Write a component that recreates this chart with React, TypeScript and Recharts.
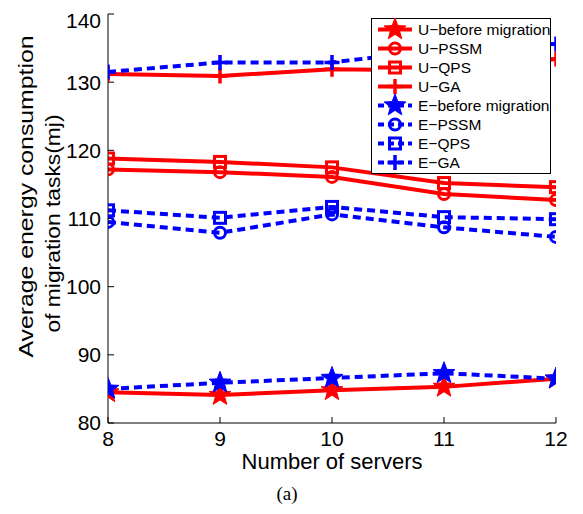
import React from 'react';
import { LineChart, Line, XAxis, YAxis, Legend } from 'recharts';

const servers = [8, 9, 10, 11, 12];
const uBefore = [84.5, 84.1, 84.8, 85.3, 86.5];
const uPSSM = [117.2, 116.8, 116.1, 113.6, 112.7];
const uQPS = [118.8, 118.3, 117.5, 115.2, 114.6];
const uGA = [131.2, 130.9, 131.9, 131.7, 133.4];
const eBefore = [85.0, 85.9, 86.6, 87.3, 86.5];
const ePSSM = [109.5, 107.9, 110.6, 108.7, 107.3];
const eQPS = [111.2, 110.1, 111.7, 110.2, 109.9];
const eGA = [131.5, 132.9, 132.9, 134.8, 135.6];
const yTicks = [80, 90, 100, 110, 120, 130, 140];

const RED = '#ff0000';
const BLUE = '#0000ff';
const SANS = '"Liberation Sans", Arial, Helvetica, sans-serif';

const data = servers.map((x, i) => ({
  x,
  uBefore: uBefore[i],
  uPSSM: uPSSM[i],
  uQPS: uQPS[i],
  uGA: uGA[i],
  eBefore: eBefore[i],
  ePSSM: ePSSM[i],
  eQPS: eQPS[i],
  eGA: eGA[i],
}));

type Kind = 'star' | 'circle' | 'square' | 'plus';

const seriesDefs: { key: string; name: string; color: string; dashed: boolean; kind: Kind }[] = [
  { key: 'uBefore', name: 'U−before migration', color: RED, dashed: false, kind: 'star' },
  { key: 'uPSSM', name: 'U−PSSM', color: RED, dashed: false, kind: 'circle' },
  { key: 'uQPS', name: 'U−QPS', color: RED, dashed: false, kind: 'square' },
  { key: 'uGA', name: 'U−GA', color: RED, dashed: false, kind: 'plus' },
  { key: 'eBefore', name: 'E−before migration', color: BLUE, dashed: true, kind: 'star' },
  { key: 'ePSSM', name: 'E−PSSM', color: BLUE, dashed: true, kind: 'circle' },
  { key: 'eQPS', name: 'E−QPS', color: BLUE, dashed: true, kind: 'square' },
  { key: 'eGA', name: 'E−GA', color: BLUE, dashed: true, kind: 'plus' },
];

function Marker({ cx, cy, kind, color }: { cx: number; cy: number; kind: Kind; color: string }) {
  if (cx == null || cy == null) return <g />;
  if (kind === 'star') {
    const R = 11.5;
    const r = R * 0.42;
    const pts: string[] = [];
    for (let k = 0; k < 10; k++) {
      const rad = k % 2 === 0 ? R : r;
      const a = -Math.PI / 2 + (k * Math.PI) / 5;
      pts.push(`${cx + rad * Math.cos(a)},${cy + rad * Math.sin(a)}`);
    }
    return <polygon points={pts.join(' ')} fill={color} stroke={color} strokeWidth={1} />;
  }
  if (kind === 'circle') {
    return <circle cx={cx} cy={cy} r={5.5} fill="none" stroke={color} strokeWidth={3} />;
  }
  if (kind === 'square') {
    return <rect x={cx - 5.5} y={cy - 5.5} width={11} height={11} fill="none" stroke={color} strokeWidth={3} />;
  }
  return (
    <path
      d={`M${cx - 7.5},${cy}H${cx + 7.5}M${cx},${cy - 7.5}V${cy + 7.5}`}
      stroke={color}
      strokeWidth={3.5}
      fill="none"
    />
  );
}

const renderLegend = () => (
  <div
    style={{
      border: '1px solid #000',
      background: '#fff',
      width: 178,
      padding: '1px 0',
      fontFamily: SANS,
      fontSize: 15.5,
      color: '#000',
    }}
  >
    {seriesDefs.map((s) => (
      <div key={s.key} style={{ display: 'flex', alignItems: 'center', height: 19 }}>
        <svg width={38} height={19} style={{ marginLeft: 4, overflow: 'visible' }}>
          <line
            x1={2}
            x2={36}
            y1={9.5}
            y2={9.5}
            stroke={s.color}
            strokeWidth={4}
            strokeDasharray={s.dashed ? '6 4' : undefined}
          />
          <Marker cx={19} cy={9.5} kind={s.kind} color={s.color} />
        </svg>
        <span style={{ marginLeft: 4, whiteSpace: 'nowrap' }}>{s.name}</span>
      </div>
    ))}
  </div>
);

const YLabel = (props: any) => {
  const vb = props.viewBox || { x: 0, y: 6, width: 100, height: 409 };
  const cy = vb.y + vb.height / 2;
  const y1 = cy - 22;
  const y2 = cy + 5;
  return (
    <g>
      <text
        x={25}
        y={y1}
        transform={`rotate(-90, 25, ${y1})`}
        textAnchor="middle"
        fontFamily={SANS}
        fontSize={21}
        fill="#000"
        textLength={322}
        lengthAdjust="spacingAndGlyphs"
      >
        Average energy consumption
      </text>
      <text
        x={52}
        y={y2}
        transform={`rotate(-90, 52, ${y2})`}
        textAnchor="middle"
        fontFamily={SANS}
        fontSize={21}
        fill="#000"
        textLength={218}
        lengthAdjust="spacingAndGlyphs"
      >
        of migration tasks(mj)
      </text>
    </g>
  );
};

const XLabel = (props: any) => {
  const vb = props.viewBox || { x: 100, y: 415, width: 448, height: 50 };
  return (
    <text
      x={vb.x + vb.width / 2}
      y={vb.y + 46}
      textAnchor="middle"
      fontFamily={SANS}
      fontSize={22}
      fill="#000"
    >
      Number of servers
    </text>
  );
};

const emptyTick = () => <g />;

export default function App() {
  return (
    <div style={{ position: 'relative', width: 575, height: 506 }}>
      <LineChart width={575} height={506} data={data} margin={{ top: 6, right: 27, bottom: 41, left: 0 }}>
        <XAxis
          xAxisId="b"
          dataKey="x"
          type="number"
          domain={[8, 12]}
          ticks={servers}
          height={50}
          tickSize={-6}
          tickMargin={14}
          axisLine={{ stroke: '#000', strokeWidth: 1 }}
          tickLine={{ stroke: '#000' }}
          tick={{ fill: '#000', fontFamily: SANS, fontSize: 21 }}
          label={<XLabel />}
          allowDataOverflow
        />
        <XAxis
          xAxisId="t"
          orientation="top"
          dataKey="x"
          type="number"
          domain={[8, 12]}
          ticks={servers}
          height={0}
          mirror
          tickSize={6}
          axisLine={{ stroke: '#000', strokeWidth: 1 }}
          tickLine={{ stroke: '#000' }}
          tick={emptyTick}
          allowDataOverflow
        />
        <YAxis
          yAxisId="l"
          type="number"
          domain={[80, 140]}
          ticks={yTicks}
          width={100}
          tickSize={-6}
          tickMargin={13}
          axisLine={{ stroke: '#000', strokeWidth: 1 }}
          tickLine={{ stroke: '#000' }}
          tick={{ fill: '#000', fontFamily: SANS, fontSize: 21 }}
          label={<YLabel />}
          allowDataOverflow
        />
        <YAxis
          yAxisId="r"
          orientation="right"
          type="number"
          domain={[80, 140]}
          ticks={yTicks}
          width={0}
          mirror
          tickSize={6}
          axisLine={{ stroke: '#000', strokeWidth: 1 }}
          tickLine={{ stroke: '#000' }}
          tick={emptyTick}
          allowDataOverflow
        />
        {seriesDefs.map((s) => (
          <Line
            key={s.key}
            xAxisId="b"
            yAxisId="l"
            dataKey={s.key}
            name={s.name}
            type="linear"
            stroke={s.color}
            strokeWidth={4}
            strokeDasharray={s.dashed ? '8 5' : undefined}
            isAnimationActive={false}
            activeDot={false}
            dot={(p: any) => <Marker key={`${s.key}-${p.index}`} cx={p.cx} cy={p.cy} kind={s.kind} color={s.color} />}
          />
        ))}
        <Legend
          layout="horizontal"
          verticalAlign="middle"
          align="center"
          content={renderLegend}
          wrapperStyle={{ left: 363, top: 10, width: 180, height: 155 }}
        />
      </LineChart>
      <div
        style={{
          position: 'absolute',
          left: 229,
          width: 100,
          top: 475,
          textAlign: 'center',
          fontFamily: '"Liberation Serif", "Times New Roman", serif',
          fontSize: 19,
          color: '#000',
        }}
      >
        (a)
      </div>
    </div>
  );
}
